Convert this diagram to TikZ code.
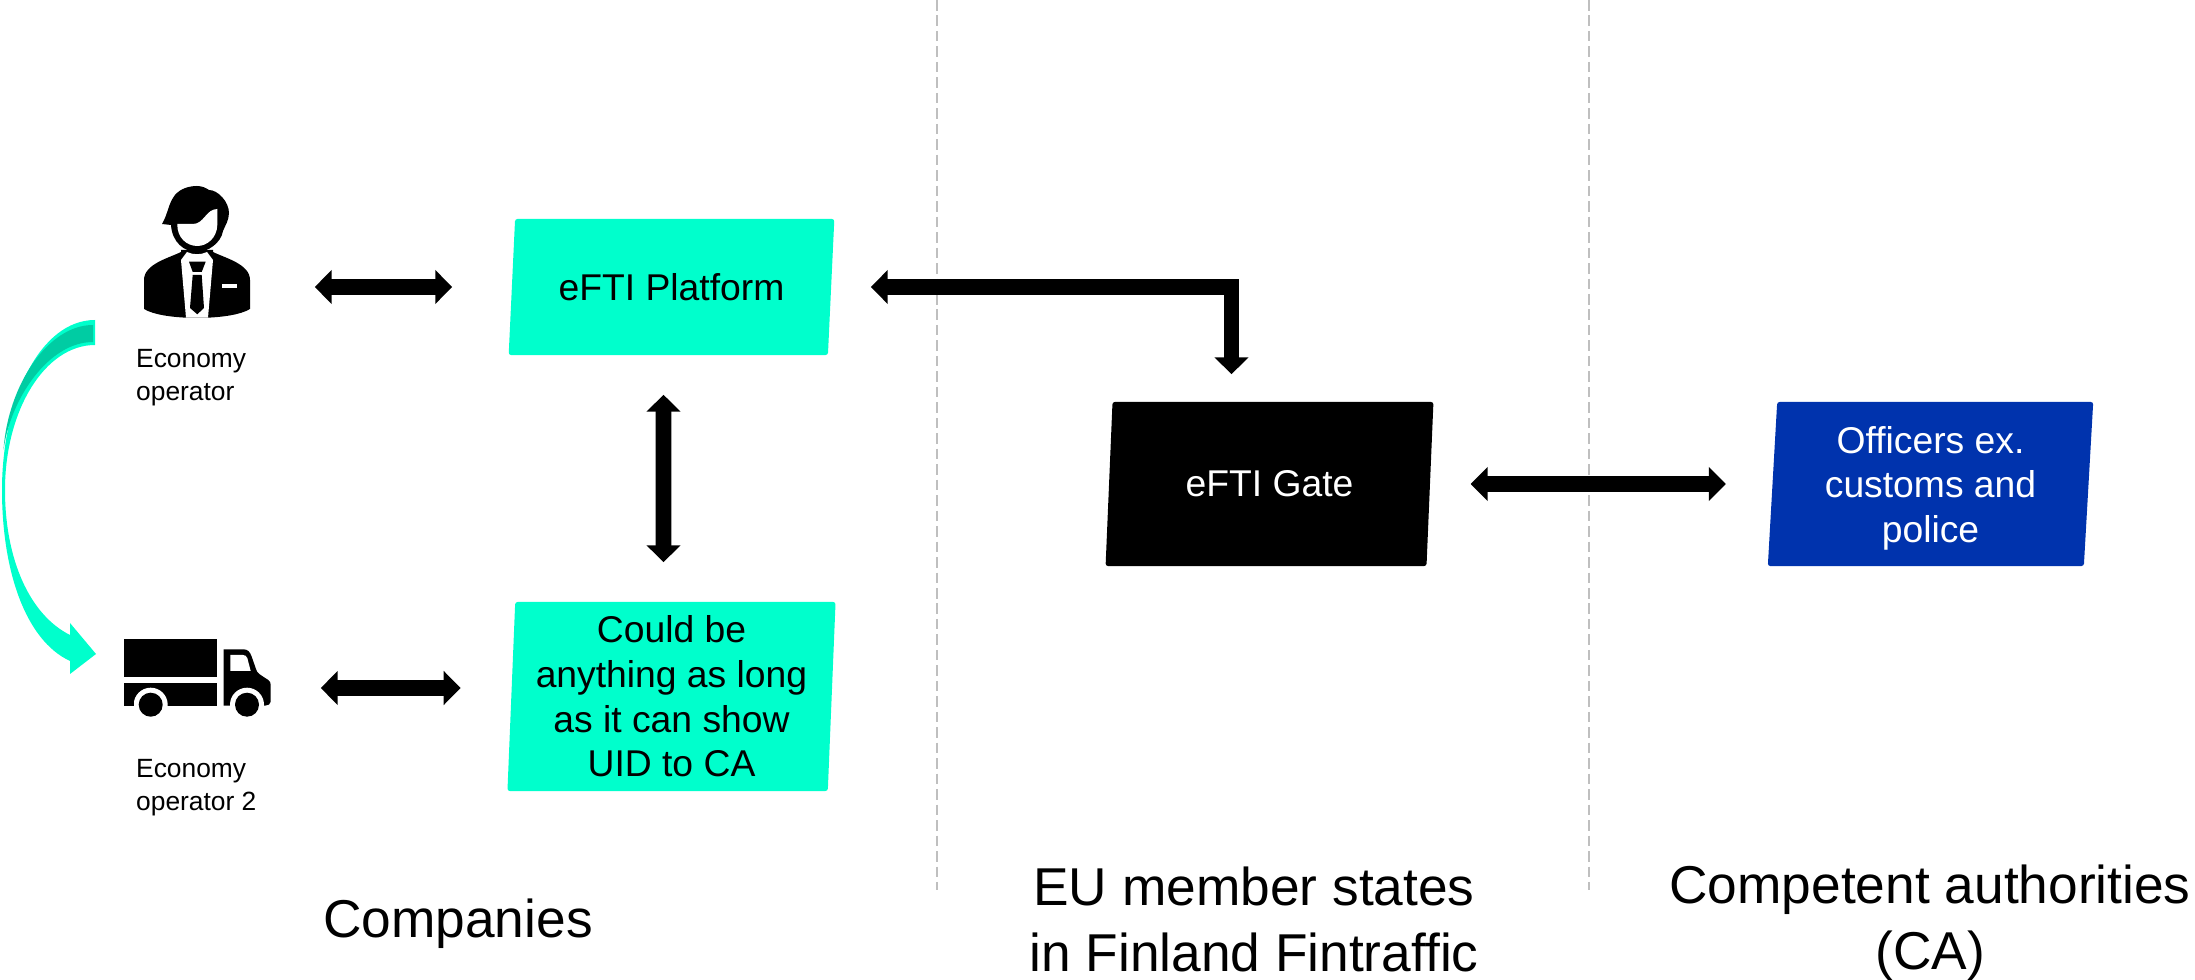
\documentclass[tikz,border=0pt]{standalone}
\usepackage{fontspec}
\setmainfont{Liberation Sans}
\usetikzlibrary{shapes.geometric,arrows.meta}
\definecolor{eftigreen}{HTML}{00FFCC}
\definecolor{eftishade}{HTML}{00CCA3}
\definecolor{cablue}{HTML}{0033AD}
\definecolor{sepgrey}{HTML}{BFBFBF}
\tikzset{
  skewbox/.style={shape=trapezium,trapezium stretches=true,rounded corners=0.7pt,inner sep=0pt,
    align=center,font=\fontsize{10.6}{12.7}\selectfont},
  blockarrow/.style={<->,>={Triangle[length=4.8pt,width=9.4pt]},line width=4.5pt},
  sepline/.style={sepgrey,line width=0.5pt,dash pattern=on 3pt off 1.4pt},
  smalltext/.style={align=left,anchor=west,inner sep=0pt,font=\fontsize{7.5}{9.4}\selectfont},
  bigtext/.style={align=center,inner sep=0pt,font=\fontsize{15.15}{18.7}\selectfont}
}
\begin{document}
\begin{tikzpicture}[x=0.01cm,y=-0.01cm]
\useasboundingbox (0,0) rectangle (2195,980);
% separators
\coordinate (septopa) at (937,0);
\coordinate (sependa) at (937,890);
\coordinate (septopb) at (1589,0);
\coordinate (sependb) at (1589,890);
\draw[sepline] (septopa)--(sependa);
\draw[sepline] (septopb)--(sependb);
% boxes
\node[skewbox,fill=eftigreen,minimum width=3.27cm,minimum height=1.36cm,trapezium left angle=80.4,trapezium right angle=99.6] (platform) at (671.5,287) {eFTI Platform};
\node[skewbox,fill=eftigreen,minimum width=3.29cm,minimum height=1.89cm,trapezium left angle=87.6,trapezium right angle=92.4] (anything) at (671.5,696.5) {Could be\\anything as long\\as it can show\\UID to CA};
\node[skewbox,fill=black,text=white,minimum width=3.29cm,minimum height=1.64cm,trapezium left angle=82,trapezium right angle=98] (gate) at (1269.5,484) {eFTI Gate};
\node[skewbox,fill=cablue,text=white,minimum width=3.27cm,minimum height=1.64cm,trapezium left angle=87.2,trapezium right angle=92.8] (officers) at (1930.5,484) {\rule{0pt}{10pt}Officers ex.\\customs and\\police};
% person icon
\node[minimum width=1.06cm,minimum height=1.32cm,inner sep=0pt] (person) at (197,252) {};
\fill (162,224) .. controls (168,214) and (168,204) .. (175,195) .. controls (181,188) and (190,186) .. (197,186)
  .. controls (202,186) and (206,188) .. (209,190) .. controls (218,190) and (229,202) .. (229,213)
  .. controls (229,220) and (225,226) .. (223,231) .. controls (221,243) and (208,252) .. (197,252)
  .. controls (184,252) and (172,242) .. (171,225) -- cycle;
\fill[white] (177.3,224) -- (193,224) .. controls (204,224) and (206,209) .. (217.3,209) -- (217.3,225)
  .. controls (217,238) and (207,246) .. (197.3,246) .. controls (187,246) and (177,238) .. (177.3,224) -- cycle;
\fill (181,250) -- (213,250) -- (213,252) .. controls (225,258) and (250,264) .. (250,280) -- (250,309)
  .. controls (240,315) and (222,317) .. (208,317.7) -- (186,317.7) .. controls (172,317) and (154,315) .. (144,309)
  -- (144,280) .. controls (144,264) and (169,258) .. (181,252) -- cycle;
\fill[white] (181,260) -- (187,252) .. controls (193,255) and (201,255) .. (207,252) -- (213,260) -- (208,317.7) -- (186,317.7) -- cycle;
\fill (189,261.7) -- (205.7,261.7) -- (201.7,272) -- (192.7,272) -- cycle;
\fill (192.7,275) -- (201.7,275) -- (204,308) -- (197.3,314.3) -- (190,308) -- cycle;
\fill[white] (221.7,284.5) rectangle (237,288.5);
\node[smalltext] (operatora) at (135.5,377.5) {Economy\\operator};
% truck icon
\node[minimum width=1.47cm,minimum height=0.78cm,inner sep=0pt] (truck) at (197.5,678) {};
\fill (124,639.3) rectangle (217.3,677.3);
\fill (124,683.3) rectangle (217.3,705.7);
\fill (223.7,649.3) -- (243.3,649.3) .. controls (248,649.3) and (250,652) .. (251.7,656.7) -- (256,669)
  .. controls (257,673) and (259,674) .. (268.3,680) .. controls (270,681) and (270.7,683) .. (270.7,685) -- (270.7,701.7)
  .. controls (270.7,704) and (268,705.7) .. (265,705.7) -- (223.7,705.7) -- cycle;
\fill[white] (230.3,655) -- (243,655) .. controls (245,655) and (246.5,656) .. (247.3,658) -- (250.7,671) -- (230.3,671) -- cycle;
\fill[white] (150.7,704.7) circle (17);
\fill[white] (247,704.7) circle (17);
\fill[white] (124,706) rectangle (271,720);
\fill (124,683.3) -- (134,683.3) -- (134,705.7) -- (124,705.7) -- cycle;
\fill (150.7,704.7) circle (12);
\fill (247,704.7) circle (12);
\node[smalltext] (operatorb) at (135.5,788) {Economy\\operator 2};
% handover arrow
\fill[eftigreen] (95,320) .. controls (40,320) and (2,400) .. (2,490) .. controls (2,570) and (25,640) .. (70,661)
  -- (70,674) -- (96,654) -- (70,623) -- (70,635) .. controls (30,615) and (5,560) .. (5,490)
  .. controls (5,410) and (45,345) .. (95,345) -- cycle;
\fill[eftishade] (93,325) .. controls (48,325) and (8,385) .. (3.5,450) .. controls (10,400) and (48,342) .. (93,342) -- cycle;
% connectors
\draw[blockarrow,shorten <=0.64cm,shorten >=0.59cm] (person.east |- platform.west) -- (platform.west);
\draw[blockarrow,shorten <=0.49cm,shorten >=0.50cm] (truck.east |- 0,688) -- ([yshift=0.085cm]anything.west);
\draw[blockarrow,shorten <=0.39cm,shorten >=0.39cm] ([xshift=-0.08cm]platform.south) -- ([xshift=-0.08cm]anything.north);
\draw[blockarrow,shorten <=0.39cm,shorten >=0.27cm] (platform.east) -| ([xshift=-0.38cm]gate.north);
\draw[blockarrow,shorten <=0.4cm,shorten >=0.46cm] (gate.east) -- (officers.west);
% group labels
\node[bigtext] (companies) at (458,923.5) {Companies};
\node[bigtext] (members) at (1254,919.5) {EU member states\\in Finland Fintraffic};
\node[bigtext] (authorities) at (1930,923) {Competent authorities\\(CA)};
\end{tikzpicture}
\end{document}
